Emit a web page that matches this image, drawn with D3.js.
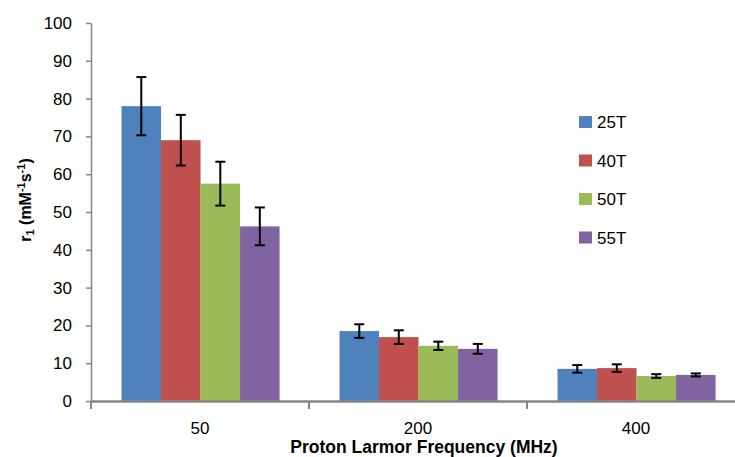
<!DOCTYPE html>
<html>
<head>
<meta charset="utf-8">
<script src="https://cdn.jsdelivr.net/npm/d3@7"></script>
<style>
  html, body { margin: 0; padding: 0; background: #fff; }
  svg { display: block; font-family: "Liberation Sans", Arial, sans-serif; }
</style>
</head>
<body>
<svg id="chart" width="735" height="457"></svg>
<script>
const categories = ["50", "200", "400"];
const series = ["25T", "40T", "50T", "55T"];
const values = [
  [78.0, 18.5, 8.5],
  [69.0, 16.9, 8.7],
  [57.5, 14.6, 6.6],
  [46.2, 13.8, 6.9]
];
const errors = [
  [7.7, 1.8, 1.0],
  [6.7, 1.8, 1.0],
  [5.8, 1.1, 0.5],
  [5.0, 1.3, 0.4]
];
const yTicks = [0, 10, 20, 30, 40, 50, 60, 70, 80, 90, 100];
const colors = ["#4F81BD", "#C0504D", "#9BBB59", "#8064A2"];

const svg = d3.select("#chart");
const mLeft = 91, mRight = 745, mTop = 23, mBottom = 401;

const x0 = d3.scaleBand().domain(categories).range([mLeft, mRight]).paddingInner(0).paddingOuter(0);
const x1 = d3.scaleBand().domain(series)
  .range([x0.bandwidth() * 0.14, x0.bandwidth() * 0.865]).padding(0);
const y = d3.scaleLinear().domain([0, 100]).range([mBottom, mTop]);
const color = d3.scaleOrdinal().domain(series).range(colors);

// bars
const data = [];
series.forEach((s, i) => categories.forEach((c, j) => data.push({s, c, v: values[i][j], e: errors[i][j]})));

svg.append("g").selectAll("rect").data(data).join("rect")
  .attr("x", d => x0(d.c) + x1(d.s))
  .attr("y", d => y(d.v))
  .attr("width", x1.bandwidth())
  .attr("height", d => y(0) - y(d.v))
  .attr("fill", d => color(d.s));

// error bars
const eb = svg.append("g").attr("stroke", "#000").attr("stroke-width", 2);
data.forEach(d => {
  const cx = x0(d.c) + x1(d.s) + x1.bandwidth() / 2;
  eb.append("line").attr("x1", cx).attr("x2", cx).attr("y1", y(d.v + d.e)).attr("y2", y(d.v - d.e));
  eb.append("line").attr("x1", cx - 5).attr("x2", cx + 5).attr("y1", y(d.v + d.e)).attr("y2", y(d.v + d.e));
  eb.append("line").attr("x1", cx - 5).attr("x2", cx + 5).attr("y1", y(d.v - d.e)).attr("y2", y(d.v - d.e));
});

// y axis
const yAxis = svg.append("g").attr("transform", `translate(${mLeft},0)`)
  .call(d3.axisLeft(y).tickValues(yTicks).tickSize(5).tickPadding(14).tickSizeOuter(0));
yAxis.select(".domain").attr("stroke", "#868686").attr("stroke-width", 1.5);
yAxis.selectAll(".tick line").attr("stroke", "#868686").attr("stroke-width", 1.5);
yAxis.selectAll(".tick text").attr("font-size", 17).attr("fill", "#000")
  .attr("font-family", "Liberation Sans, Arial, sans-serif");

// x axis
const xAxis = svg.append("g").attr("transform", `translate(0,${mBottom})`)
  .call(d3.axisBottom(x0).tickSize(0).tickPadding(21).tickSizeOuter(0));
xAxis.select(".domain").attr("stroke", "#868686").attr("stroke-width", 2.5);
xAxis.selectAll(".tick text").attr("font-size", 17).attr("fill", "#000")
  .attr("font-family", "Liberation Sans, Arial, sans-serif");
const bounds = categories.map(c => x0(c));
xAxis.selectAll("line.bound").data(bounds).join("line").attr("class", "bound")
  .attr("x1", d => d).attr("x2", d => d).attr("y1", 0).attr("y2", 8)
  .attr("stroke", "#868686").attr("stroke-width", 2);

// axis titles
svg.append("text").attr("x", 424).attr("y", 453)
  .attr("text-anchor", "middle").attr("font-size", 17.5).attr("font-weight", "bold")
  .text("Proton Larmor Frequency (MHz)");

const yt = svg.append("text").attr("transform", "translate(31,200) rotate(-90)")
  .attr("text-anchor", "middle").attr("font-size", 16).attr("font-weight", "bold");
yt.append("tspan").text("r");
yt.append("tspan").attr("font-size", 11).attr("dy", 3).text("1");
yt.append("tspan").attr("dy", -3).text(" (mM");
yt.append("tspan").attr("font-size", 11).attr("dy", -6).text("-1");
yt.append("tspan").attr("dy", 6).text("s");
yt.append("tspan").attr("font-size", 11).attr("dy", -6).text("-1");
yt.append("tspan").attr("dy", 6).text(")");

// legend
const legend = svg.append("g");
series.forEach((s, i) => {
  const g = legend.append("g").attr("transform", `translate(579,${116 + i * 38.5})`);
  g.append("rect").attr("width", 13).attr("height", 12).attr("fill", color(s));
  g.append("text").attr("x", 18).attr("y", 6).attr("dy", "0.36em")
    .attr("font-size", 17).attr("fill", "#000").text(s);
});
</script>
</body>
</html>
